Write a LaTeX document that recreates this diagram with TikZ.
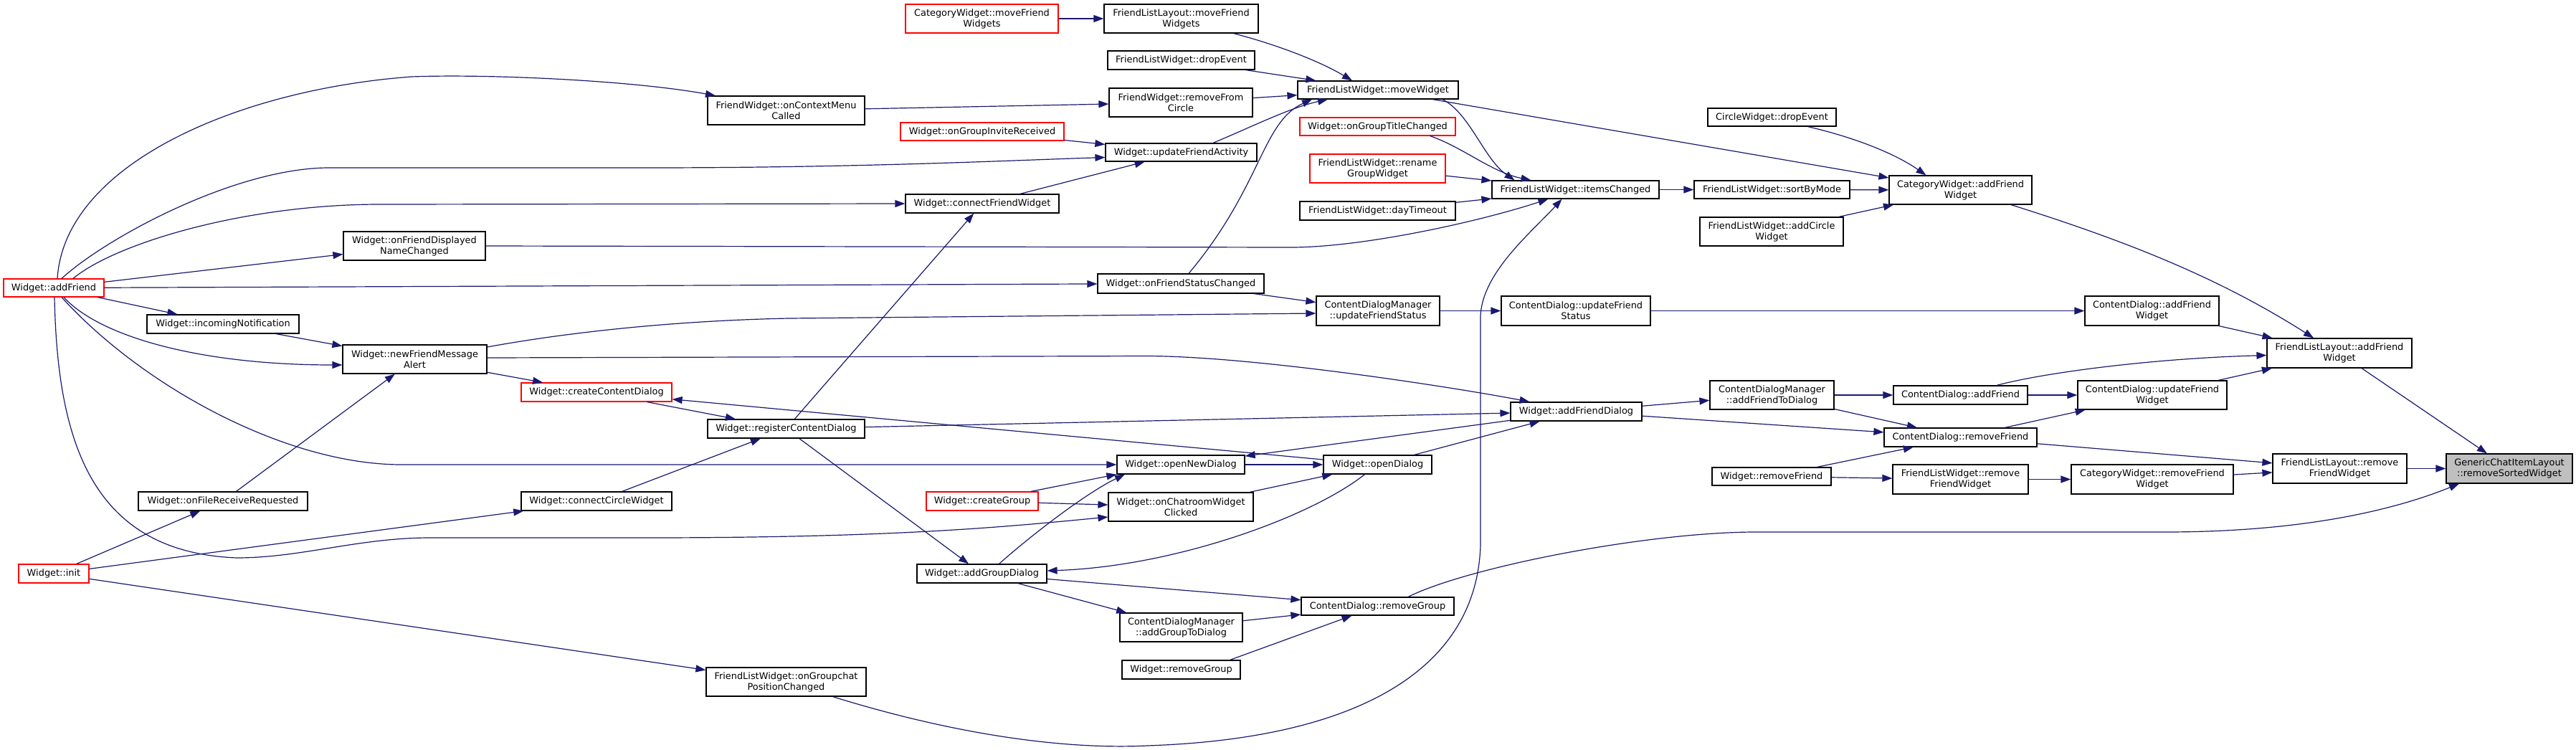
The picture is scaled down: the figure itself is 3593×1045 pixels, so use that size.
\documentclass[tikz,border=0pt]{standalone}
\usepackage{fontspec}
\setmainfont{DejaVu Sans}
\usetikzlibrary{arrows.meta}
\definecolor{edgeblue}{RGB}{25,25,112}
\begin{document}
\begin{tikzpicture}[x=1pt,y=-1pt,
  box/.style={draw=black, line width=1.2pt, fill=white, inner sep=0pt, align=center,
    font=\fontsize{12.9}{15}\selectfont},
  redbox/.style={box, draw=red},
  rootbox/.style={box, fill=black!25},
  e/.style={draw=edgeblue, line width=1.2pt, -{Triangle[length=14pt,width=10pt]}}]
\fill[white] (0,0) rectangle (3593,1045);
\useasboundingbox (0,0) rectangle (3593,1045);
% nodes
\node[redbox, minimum width=140pt, minimum height=25pt] (A) at (75,401.5) {Widget::addFriend};
\node[box, minimum width=198pt, minimum height=40pt] (B) at (578,343) {Widget::onFriendDisplayed\\NameChanged};
\node[box, minimum width=212pt, minimum height=26pt] (C) at (311,452) {Widget::incomingNotification};
\node[box, minimum width=201pt, minimum height=40pt] (D) at (578.5,501) {Widget::newFriendMessage\\Alert};
\node[redbox, minimum width=213pt, minimum height=40pt] (E) at (1369.5,26) {CategoryWidget::moveFriend\\Widgets};
\node[box, minimum width=215pt, minimum height=40pt] (F) at (1647.5,26) {FriendListLayout::moveFriend\\Widgets};
\node[box, minimum width=205pt, minimum height=26pt] (G) at (1647.5,84) {FriendListWidget::dropEvent};
\node[box, minimum width=219pt, minimum height=40pt] (H) at (1096.5,154) {FriendWidget::onContextMenu\\Called};
\node[box, minimum width=200pt, minimum height=40pt] (I) at (1647,143) {FriendWidget::removeFrom\\Circle};
\node[redbox, minimum width=228pt, minimum height=25pt] (J) at (1370,183.5) {Widget::onGroupInviteReceived};
\node[box, minimum width=211pt, minimum height=25pt] (K) at (1647.5,212.5) {Widget::updateFriendActivity};
\node[box, minimum width=214pt, minimum height=26pt] (L) at (1370,284) {Widget::connectFriendWidget};
\node[box, minimum width=232pt, minimum height=27pt] (M) at (1647,395.5) {Widget::onFriendStatusChanged};
\node[box, minimum width=224pt, minimum height=25pt] (N) at (1922,125.5) {FriendListWidget::moveWidget};
\node[redbox, minimum width=217pt, minimum height=25pt] (O) at (1921.5,176.5) {Widget::onGroupTitleChanged};
\node[redbox, minimum width=189pt, minimum height=40pt] (P) at (1921.5,235) {FriendListWidget::rename\\GroupWidget};
\node[box, minimum width=217pt, minimum height=26pt] (Q) at (1921.5,294) {FriendListWidget::dayTimeout};
\node[box, minimum width=233pt, minimum height=25pt] (R) at (2197.5,264.5) {FriendListWidget::itemsChanged};
\node[box, minimum width=217pt, minimum height=25pt] (S) at (2471.5,264.5) {FriendListWidget::sortByMode};
\node[box, minimum width=179pt, minimum height=25pt] (T) at (2471.5,163.5) {CircleWidget::dropEvent};
\node[box, minimum width=200pt, minimum height=40pt] (U) at (2471,323) {FriendListWidget::addCircle\\Widget};
\node[box, minimum width=199pt, minimum height=40pt] (V) at (2734.5,265) {CategoryWidget::addFriend\\Widget};
\node[box, minimum width=172pt, minimum height=41pt] (W) at (1922,433.5) {ContentDialogManager\\::updateFriendStatus};
\node[box, minimum width=208pt, minimum height=41pt] (X) at (2198,433.5) {ContentDialog::updateFriend\\Status};
\node[box, minimum width=187pt, minimum height=41pt] (Y) at (3001.5,433.5) {ContentDialog::addFriend\\Widget};
\node[box, minimum width=202pt, minimum height=41pt] (Z) at (3263,492.5) {FriendListLayout::addFriend\\Widget};
\node[redbox, minimum width=210pt, minimum height=26pt] (a1) at (832,547) {Widget::createContentDialog};
\node[box, minimum width=236pt, minimum height=26pt] (a2) at (311,699) {Widget::onFileReceiveRequested};
\node[box, minimum width=210pt, minimum height=26pt] (a3) at (832,699) {Widget::connectCircleWidget};
\node[redbox, minimum width=98pt, minimum height=26pt] (a4) at (75,800) {Widget::init};
\node[box, minimum width=219pt, minimum height=26pt] (a5) at (1096.5,598) {Widget::registerContentDialog};
\node[box, minimum width=178pt, minimum height=26pt] (a6) at (1647,648) {Widget::openNewDialog};
\node[redbox, minimum width=156pt, minimum height=26pt] (a7) at (1370,699) {Widget::createGroup};
\node[box, minimum width=202pt, minimum height=40pt] (a8) at (1647,707) {Widget::onChatroomWidget\\Clicked};
\node[box, minimum width=181pt, minimum height=26pt] (a9) at (1369.5,800) {Widget::addGroupDialog};
\node[box, minimum width=171pt, minimum height=40pt] (b1) at (1647.5,875) {ContentDialogManager\\::addGroupToDialog};
\node[box, minimum width=165pt, minimum height=26pt] (b2) at (1647.5,934) {Widget::removeGroup};
\node[box, minimum width=223pt, minimum height=40pt] (b3) at (1096.5,951) {FriendListWidget::onGroupchat\\PositionChanged};
\node[box, minimum width=183pt, minimum height=26pt] (b4) at (2198.5,574) {Widget::addFriendDialog};
\node[box, minimum width=173pt, minimum height=40pt] (b5) at (2471.5,551) {ContentDialogManager\\::addFriendToDialog};
\node[box, minimum width=187pt, minimum height=26pt] (b6) at (2734.5,551) {ContentDialog::addFriend};
\node[box, minimum width=213pt, minimum height=26pt] (b7) at (2734.5,610) {ContentDialog::removeFriend};
\node[box, minimum width=166pt, minimum height=25pt] (b8) at (2471,664.5) {Widget::removeFriend};
\node[box, minimum width=189pt, minimum height=41pt] (b9) at (2734.5,668.5) {FriendListWidget::remove\\FriendWidget};
\node[box, minimum width=151pt, minimum height=26pt] (c1) at (1921.5,648) {Widget::openDialog};
\node[box, minimum width=213pt, minimum height=25pt] (c2) at (1921.5,845.5) {ContentDialog::removeGroup};
\node[box, minimum width=208pt, minimum height=40pt] (c3) at (3002,551) {ContentDialog::updateFriend\\Widget};
\node[box, minimum width=226pt, minimum height=41pt] (c4) at (3002,668.5) {CategoryWidget::removeFriend\\Widget};
\node[box, minimum width=187pt, minimum height=41pt] (c5) at (3263.5,653.5) {FriendListLayout::remove\\FriendWidget};
\node[rootbox, minimum width=176pt, minimum height=41pt] (c6) at (3500,653.5) {GenericChatItemLayout\\::removeSortedWidget};
% straight edges
\draw[e] (c5) -- (c6);
\draw[e] (Z) -- (c6);
\draw[e] (c4) -- (c5);
\draw[e] (b7) -- (c5);
\draw[e] (b9) -- (c4);
\draw[e] (b8) -- (b9);
\draw[e] (b8) -- (b7);
\draw[e] (b5) -- (b6);
\draw[e] (b5) -- (b7);
\draw[e] (b4) -- (b5);
\draw[e] (b4) -- (b7);
\draw[e] (b6) -- (c3);
\draw[e] (b7) -- (c3);
\draw[e] (Y) -- (Z);
\draw[e] (c3) -- (Z);
\draw[e] (X) -- (Y);
\draw[e] (S) -- (V);
\draw[e] ([xshift=50pt]T.south) .. controls (2580,190) and (2640,212) .. ([xshift=-48pt]V.north);
\draw[e] (U) -- (V);
\draw[e] (N) -- (V);
\draw[e] (R) -- (S);
\draw[e] (P) -- (R);
\draw[e] (Q) -- (R);
\draw[e] (L) -- (K);
\draw[e] (J) -- (K);
\draw[e] (A) -- (B);
\draw[e] (A) -- (M);
\draw[e] (A) -- (C);
\draw[e] (C) -- (D);
\draw[e] (a2) -- (D);
\draw[e] (a4) -- (a2);
\draw[e] (a4) -- (a3);
\draw[e] (a4) -- (b3);
\draw[e] (a1) -- (a5);
\draw[e] (D) -- (a1);
\draw[e] (a5) -- (L);
\draw[e] (a5) -- (b4);
\draw[e] (a3) -- (a5);
\draw[e] (a5) -- (a9);
\draw[e] (a7) -- (a6.south west);
\draw[e] (a7) -- (a8);
\draw[e] (a6) -- (c1);
\draw[e] (b4) -- (a6);
\draw[e] (c1) -- (a1);
\draw[e] (c1) -- (b4);
\draw[e] (a8) -- (c1);
\draw[e] (a9) -- (c2);
\draw[e] (b1) -- (c2);
\draw[e] ([xshift=68pt]b2.north) -- (c2);
\draw[e] (a9) -- (b1);
\draw[e] (M) -- (W);
\draw[e] (W) -- (X);
\draw[e] ([xshift=73pt]F.south) .. controls (1780,62) and (1840,85) .. ([xshift=-36pt]N.north);
\draw[e] (G) -- (N);
\draw[e] (I) -- (N);
\draw[e] (H) -- (I);
\draw[e] (E) -- (F);
% curved edges
\draw[e] ([xshift=5pt]A.north) .. controls (90,230) and (330,125) .. (574,107)
  .. controls (680,103) and (880,112) .. ([xshift=-98.5pt]H.north);
\draw[e] ([xshift=11pt]A.north) .. controls (150,330) and (330,234) .. (459,234) -- (900,234)
  .. controls (1200,234) and (1400,224) .. ([yshift=-7pt]K.west);
\draw[e] ([xshift=27pt]A.north) .. controls (160,340) and (340,285) .. (530,285) -- (L.west);
\draw[e] ([xshift=14pt]A.south) .. controls (140,470) and (280,509) .. ([yshift=-8pt]D.west);
\draw[e] ([xshift=11pt]A.south) .. controls (200,540) and (400,648) .. (560,648) -- (a6.west);
\draw[e] ([xshift=1pt]A.south) .. controls (80,620) and (130,770) .. (330,778)
  .. controls (420,778) and (500,750) .. (600,750) -- (900,750)
  .. controls (1250,750) and (1400,735) .. ([yshift=-14pt]a8.west);
\draw[e] (B.east) -- (1800,345) .. controls (1900,345) and (2060,310) .. ([xshift=-38pt]R.south);
\draw[e] ([xshift=90pt]N.south) .. controls (2050,158) and (2070,222) .. ([xshift=-85pt]R.north);
\draw[e] ([xshift=73pt]O.south) .. controls (2040,205) and (2080,240) .. ([xshift=-62pt]R.north);
\draw[e] ([xshift=11pt]M.north) .. controls (1760,260) and (1760,170) .. ([xshift=-92pt]N.south);
\draw[e] ([xshift=44.5pt]K.north) .. controls (1750,175) and (1800,150) .. ([xshift=-70pt]N.south);
\draw[e] ([yshift=17pt]D.east) .. controls (800,462) and (950,447) .. (1100,444) -- ([yshift=-3.5pt]W.west);
\draw[e] ([yshift=2pt]D.east) -- (1600,496.5) .. controls (1750,497) and (2027,540) .. ([xshift=-65pt]b4.north);
\draw[e] ([xshift=24pt]a9.north) .. controls (1440,745) and (1516,687) .. ([xshift=-78pt]a6.south);
\draw[e] ([xshift=-18pt]c1.south) .. controls (1830,720) and (1640,790) .. ([yshift=4pt]a9.east);
\draw[e] ([xshift=50.5pt]b6.north) .. controls (2850,520) and (3000,500) .. ([yshift=-3pt]Z.west);
\draw[e] ([xshift=70.5pt]V.south) .. controls (2962,335) and (3093,386) .. ([xshift=-36pt]Z.north);
\draw[e] ([xshift=42.5pt]c2.north) .. controls (2050,790) and (2300,742) .. (2449,742) -- (3019,742)
  .. controls (3200,742) and (3330,715) .. ([xshift=-70pt]c6.south);
\draw[e] ([xshift=65pt]b3.south) .. controls (1350,1030) and (1500,1045) .. (1600,1040)
  .. controls (1900,1030) and (2060,930) .. (2065,760) -- (2065,440)
  .. controls (2068,380) and (2135,325) .. ([xshift=-19pt]R.south);
\end{tikzpicture}
\end{document}
